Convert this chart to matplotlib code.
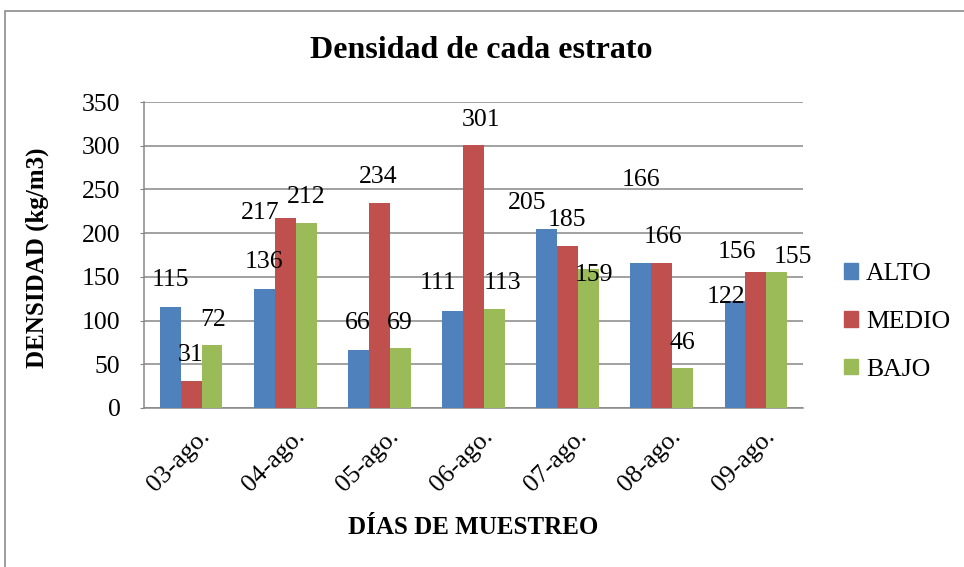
import numpy as np
import matplotlib
matplotlib.use('Agg')
import matplotlib.pyplot as plt
import matplotlib.transforms as mtrans
from matplotlib.patches import Rectangle, Patch

plt.rcParams['font.family'] = ['Liberation Serif', 'DejaVu Serif']

# data
dias = ['03-ago.', '04-ago.', '05-ago.', '06-ago.', '07-ago.', '08-ago.', '09-ago.']
alto = [115, 136, 66, 111, 205, 166, 122]
medio = [31, 217, 234, 301, 185, 166, 156]
bajo = [72, 212, 69, 113, 159, 46, 155]
series = ['ALTO', 'MEDIO', 'BAJO']
colores = ['#4F81BD', '#C0504D', '#9BBB59']

# label offsets in pixels (dx, dy) from the bar top, as placed in the original
offs = {
    'ALTO': [(0, 27), (0, 27), (-1, 27), (-15, 28), (-20, 26), (0, 83), (-9, 4)],
    'MEDIO': [(0, 26), (-25, 5), (-1, 26), (8, 25), (-1, 26), (1, 26), (-19, 20)],
    'BAJO': [(1, 25), (0, 26), (-1, 25), (8, 26), (5, -6), (0, 25), (16, 15)],
}
fs = 18.5

fig = plt.figure(figsize=(9.64, 5.67), dpi=100)
# outer chart border
fig.patches.append(Rectangle((5 / 964, -0.05), 1.1, 1.05 - 11 / 567, transform=fig.transFigure,
                             fill=False, edgecolor='#8c8c8c', linewidth=1.2))

ax = fig.add_axes([144 / 964, 159 / 567, 659 / 964, 306 / 567])
x = np.arange(len(dias))
w = 0.222
gris = '#878787'
for i, (nombre, vals, col) in enumerate(zip(series, [alto, medio, bajo], colores)):
    pos = x + (i - 1) * w
    ax.bar(pos, vals, width=w, color=col, zorder=3)
    for xp, v, (dx, dy) in zip(pos, vals, offs[nombre]):
        ax.annotate(str(v), (xp, v), xytext=(dx, dy), textcoords='offset pixels',
                    ha='center', va='center', fontsize=fs, zorder=5)

ax.set_xlim(-0.5, len(dias) - 0.5)
ax.set_ylim(0, 350)
ax.set_yticks(np.arange(0, 351, 50))
ax.yaxis.grid(True, color=gris, linewidth=1.1, zorder=0)
ax.set_axisbelow(True)
for s in ['top', 'right']:
    ax.spines[s].set_visible(False)
for s in ['left', 'bottom']:
    ax.spines[s].set_color(gris)
    ax.spines[s].set_linewidth(1.1)
ax.tick_params(axis='y', length=3, color=gris, labelsize=fs, pad=14)
ax.tick_params(axis='x', length=0, labelsize=fs, pad=8)
ax.set_xticks(x)
ax.set_xticklabels(dias, rotation=45, ha='right', rotation_mode='anchor')
shift = mtrans.ScaledTranslation(8 / 100, -6 / 100, fig.dpi_scale_trans)
for lab in ax.get_xticklabels():
    lab.set_transform(lab.get_transform() + shift)

fig.text(37 / 964, 1 - 258 / 567, 'DENSIDAD (kg/m3)', fontsize=18, fontweight='bold',
         rotation=90, ha='center', va='center')
fig.text(473 / 964, 1 - 527 / 567, 'DÍAS DE MUESTREO', fontsize=18, fontweight='bold',
         ha='center', va='center')
fig.text(481 / 964, 1 - 50 / 567, 'Densidad de cada estrato', fontsize=23, fontweight='bold',
         ha='center', va='center')

handles = [Patch(color=c) for c in colores]
fig.legend(handles, series, loc='center left', bbox_to_anchor=(844 / 964, 1 - 322 / 567),
           frameon=False, fontsize=fs, handlelength=0.55, handleheight=0.55,
           handletextpad=0.3, labelspacing=1.0, borderaxespad=0, borderpad=0)

fig.savefig('out.png', dpi=100)
